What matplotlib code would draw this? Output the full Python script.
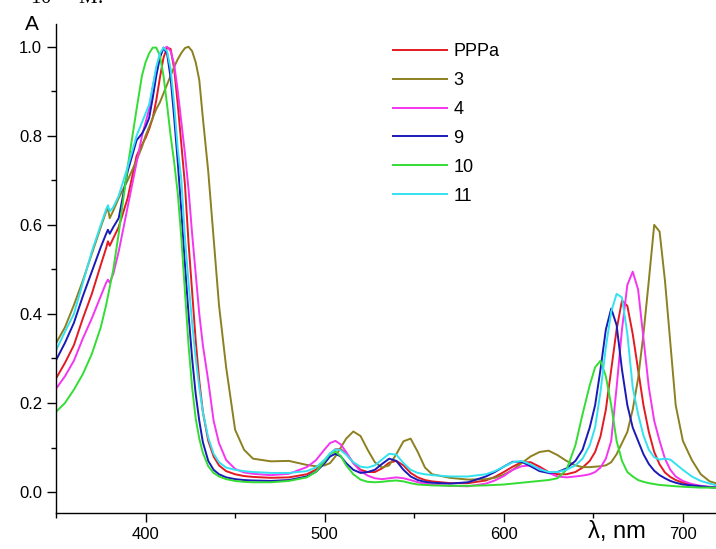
import matplotlib
matplotlib.use("Agg")
import matplotlib.pyplot as plt
from matplotlib.ticker import MultipleLocator

plt.rcParams['font.family'] = ['Liberation Sans', 'DejaVu Sans']

# wavelength grid, nm
wavelength = [350, 355, 360, 365, 370, 375, 378, 379, 380, 382, 385, 390, 395, 398,
              400, 402, 404, 406, 408, 410, 412, 414, 416, 418, 420, 422, 424, 426,
              428, 430, 432, 435, 438, 441, 445, 450, 455, 460, 470, 480, 490, 495,
              500, 503, 506, 509, 512, 516, 520, 524, 528, 532, 536, 540, 544, 548,
              552, 556, 560, 570, 580, 590, 595, 600, 605, 610, 615, 620, 625, 630,
              635, 640, 644, 648, 651, 654, 657, 660, 663, 666, 669, 672, 675, 678,
              681, 684, 687, 690, 693, 696, 700, 705, 710, 715, 720]

# normalised absorbance of each compound
a_pppa = [0.255, 0.29, 0.33, 0.39, 0.445, 0.51, 0.548, 0.563, 0.553, 0.57, 0.595, 0.66, 0.755, 0.78,
          0.795, 0.815, 0.84, 0.88, 0.93, 0.975, 0.998, 0.995, 0.95, 0.87, 0.78, 0.69, 0.56, 0.45,
          0.34, 0.25, 0.18, 0.115, 0.08, 0.06, 0.047, 0.04, 0.036, 0.034, 0.032, 0.033, 0.04, 0.05,
          0.07, 0.086, 0.096, 0.096, 0.086, 0.066, 0.05, 0.045, 0.045, 0.053, 0.066, 0.07, 0.06, 0.043,
          0.033, 0.027, 0.024, 0.02, 0.02, 0.026, 0.034, 0.045, 0.057, 0.067, 0.067, 0.057, 0.045, 0.04,
          0.04, 0.045, 0.055, 0.07, 0.09, 0.125, 0.185, 0.275, 0.365, 0.43, 0.418, 0.355, 0.275, 0.195,
          0.135, 0.09, 0.062, 0.044, 0.034, 0.027, 0.021, 0.016, 0.013, 0.011, 0.01]

a_3 = [0.334, 0.37, 0.42, 0.475, 0.535, 0.595, 0.63, 0.637, 0.615, 0.632, 0.66, 0.70, 0.745, 0.775,
       0.80, 0.82, 0.84, 0.86, 0.875, 0.895, 0.915, 0.935, 0.955, 0.972, 0.986, 0.997, 1.0, 0.99,
       0.965, 0.925, 0.84, 0.72, 0.57, 0.42, 0.28, 0.14, 0.095, 0.075, 0.069, 0.07, 0.061, 0.058,
       0.06, 0.065, 0.08, 0.1, 0.12, 0.136, 0.126, 0.095, 0.067, 0.055, 0.06, 0.085, 0.114, 0.12,
       0.09, 0.055, 0.04, 0.032, 0.028, 0.029, 0.032, 0.039, 0.05, 0.065, 0.08, 0.09, 0.093, 0.083,
       0.07, 0.06, 0.056, 0.056, 0.057, 0.058, 0.06, 0.067, 0.085, 0.11, 0.135, 0.185, 0.255, 0.355,
       0.475, 0.6, 0.585, 0.475, 0.335, 0.195, 0.115, 0.072, 0.04, 0.024, 0.018]

a_4 = [0.232, 0.26, 0.295, 0.345, 0.39, 0.44, 0.47, 0.477, 0.47, 0.49, 0.54, 0.64, 0.74, 0.80,
       0.83, 0.86, 0.91, 0.95, 0.98, 0.995, 1.0, 0.99, 0.96, 0.90, 0.83, 0.76, 0.68, 0.58,
       0.49, 0.40, 0.33, 0.25, 0.16, 0.11, 0.072, 0.052, 0.044, 0.041, 0.038, 0.041, 0.056, 0.071,
       0.096, 0.11, 0.115, 0.107, 0.09, 0.065, 0.047, 0.037, 0.031, 0.029, 0.031, 0.033, 0.031, 0.027,
       0.022, 0.019, 0.017, 0.014, 0.013, 0.019, 0.026, 0.036, 0.05, 0.058, 0.06, 0.053, 0.043, 0.035,
       0.033, 0.035, 0.037, 0.04, 0.045, 0.055, 0.075, 0.115, 0.235, 0.365, 0.465, 0.495, 0.455, 0.345,
       0.235, 0.16, 0.115, 0.075, 0.05, 0.035, 0.025, 0.018, 0.014, 0.012, 0.01]

a_9 = [0.296, 0.335, 0.38, 0.44, 0.495, 0.55, 0.58, 0.589, 0.58, 0.595, 0.615, 0.72, 0.79, 0.805,
       0.82, 0.84, 0.885, 0.935, 0.975, 0.998, 0.985, 0.93, 0.84, 0.74, 0.63, 0.51, 0.40, 0.30,
       0.22, 0.16, 0.112, 0.07, 0.05, 0.04, 0.033, 0.029, 0.027, 0.026, 0.025, 0.027, 0.035, 0.045,
       0.065, 0.08, 0.086, 0.08, 0.065, 0.05, 0.043, 0.045, 0.05, 0.063, 0.075, 0.07, 0.05, 0.035,
       0.027, 0.023, 0.021, 0.019, 0.022, 0.035, 0.045, 0.057, 0.068, 0.068, 0.058, 0.047, 0.043, 0.045,
       0.053, 0.07, 0.095, 0.145, 0.195, 0.275, 0.365, 0.412, 0.375, 0.275, 0.195, 0.145, 0.115, 0.085,
       0.063, 0.048, 0.038, 0.031, 0.025, 0.021, 0.017, 0.015, 0.013, 0.011, 0.01]

a_10 = [0.18, 0.20, 0.23, 0.265, 0.31, 0.37, 0.42, 0.44, 0.46, 0.50, 0.58, 0.73, 0.86, 0.935,
        0.965, 0.985, 0.998, 0.998, 0.98, 0.935, 0.87, 0.80, 0.74, 0.67, 0.57, 0.45, 0.33, 0.235,
        0.165, 0.12, 0.088, 0.058, 0.043, 0.035, 0.029, 0.025, 0.023, 0.022, 0.022, 0.025, 0.033, 0.045,
        0.07, 0.086, 0.091, 0.081, 0.06, 0.04, 0.028, 0.023, 0.022, 0.023, 0.025, 0.026, 0.024, 0.02,
        0.017, 0.016, 0.015, 0.014, 0.014, 0.015, 0.016, 0.017, 0.019, 0.021, 0.023, 0.025, 0.027, 0.031,
        0.05, 0.105, 0.175, 0.24, 0.28, 0.295, 0.26, 0.195, 0.115, 0.07, 0.045, 0.035, 0.027, 0.023,
        0.02, 0.018, 0.016, 0.015, 0.014, 0.013, 0.012, 0.011, 0.01, 0.01, 0.009]

a_11 = [0.318, 0.36, 0.40, 0.47, 0.54, 0.60, 0.635, 0.644, 0.63, 0.64, 0.665, 0.73, 0.80, 0.83,
        0.85, 0.87, 0.91, 0.955, 0.985, 0.998, 0.99, 0.95, 0.87, 0.77, 0.70, 0.57, 0.47, 0.38,
        0.30, 0.235, 0.18, 0.122, 0.086, 0.067, 0.055, 0.05, 0.047, 0.045, 0.043, 0.043, 0.047, 0.055,
        0.073, 0.087, 0.096, 0.094, 0.084, 0.067, 0.057, 0.055, 0.06, 0.073, 0.086, 0.084, 0.065, 0.05,
        0.043, 0.04, 0.038, 0.035, 0.035, 0.04, 0.047, 0.057, 0.067, 0.07, 0.062, 0.051, 0.045, 0.045,
        0.05, 0.06, 0.075, 0.105, 0.145, 0.225, 0.325, 0.405, 0.445, 0.437, 0.355, 0.235, 0.175, 0.127,
        0.095, 0.078, 0.073, 0.075, 0.073, 0.063, 0.05, 0.035, 0.025, 0.019, 0.014]

labels = ["PPPa", "3", "4", "9", "10", "11"]
series = [a_pppa, a_3, a_4, a_9, a_10, a_11]
colors = ["#e31a22", "#8c8020", "#f535f0", "#1a1ab8", "#33dd33", "#33e2f0"]

fig = plt.figure(figsize=(7.16, 5.49), dpi=100)
ax = fig.add_axes([56 / 716, 1 - 513 / 549, 1 - 56 / 716, (513 - 24) / 549])

for y, lab, c in zip(series, labels, colors):
    ax.plot(wavelength, y, color=c, lw=1.4, label=lab)

ax.set_xlim(350, 718.5)
ax.set_ylim(-0.047, 1.051)

ax.xaxis.set_major_locator(MultipleLocator(100))
ax.xaxis.set_minor_locator(MultipleLocator(50))
ax.yaxis.set_major_locator(MultipleLocator(0.2))
ax.yaxis.set_minor_locator(MultipleLocator(0.1))
ax.tick_params(which='major', direction='out', length=6.5, width=1.0, labelsize=12)
ax.tick_params(which='minor', direction='out', length=3.5, width=1.0)
ax.yaxis.set_major_formatter(plt.FuncFormatter(lambda v, p: f"{v:.1f}"))

for side in ("top", "right"):
    ax.spines[side].set_visible(False)
for side in ("left", "bottom"):
    ax.spines[side].set_linewidth(1.0)

ax.legend(loc='upper left', bbox_to_anchor=(384 / 716, 1 - 34 / 549),
          bbox_transform=fig.transFigure, frameon=False, fontsize=13,
          handlelength=3.0, handletextpad=0.35, labelspacing=0.66, borderpad=0.0)

fig.text(25 / 716, 1 - 30 / 549, "A", fontsize=15, va='baseline')
fig.text(588 / 716, 1 - 538 / 549, "λ, nm", fontsize=17, va='baseline')
fig.text(30 / 716, 1 - 4 / 549, "10$^{-5}$ M.", fontsize=15, va='baseline',
         family='Liberation Serif')

fig.savefig("out.png", dpi=100)
